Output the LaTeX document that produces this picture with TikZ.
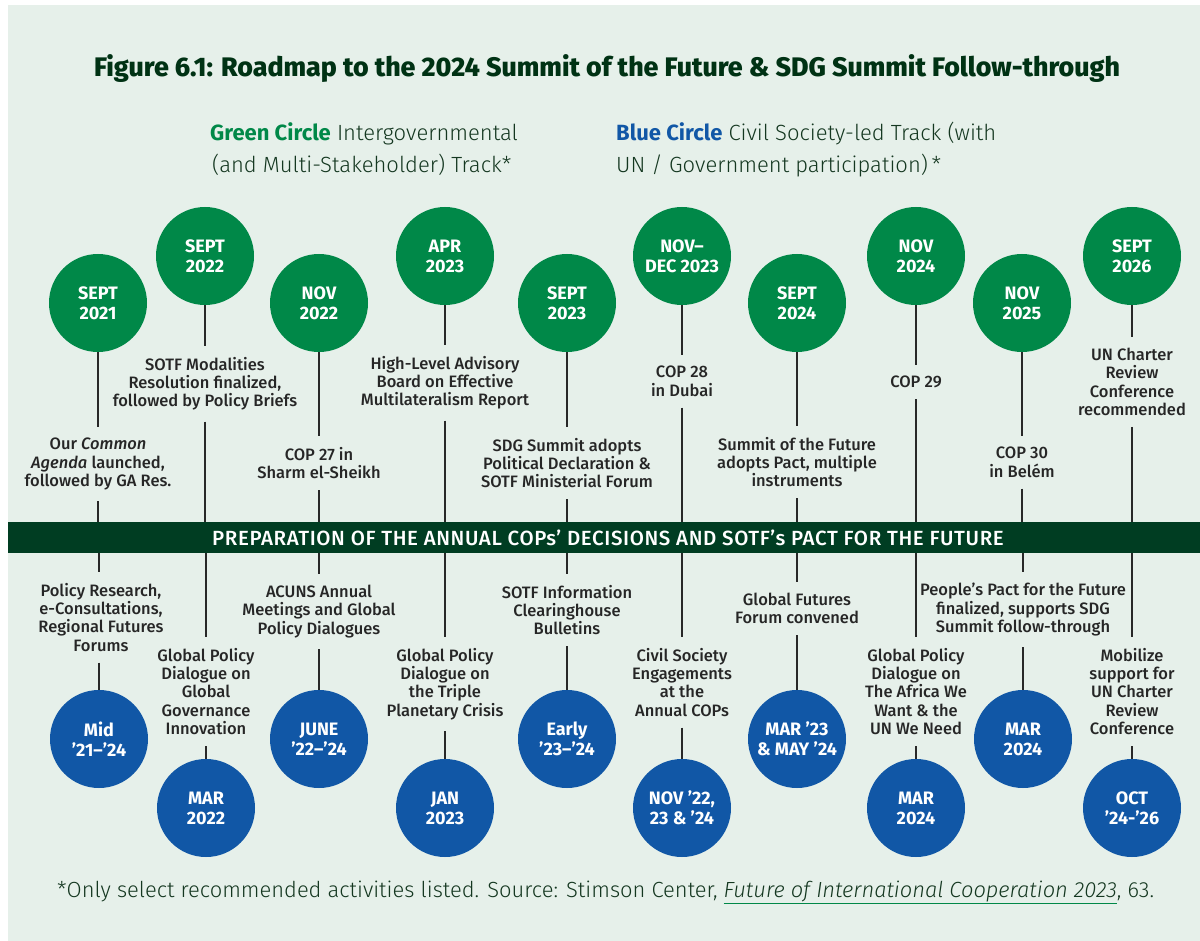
\documentclass[tikz,border=0pt]{standalone}
\usepackage{fontspec}
\setmainfont{Fira Sans}
\newfontfamily\medfont{Fira Sans Medium}
\newfontfamily\bandfont{Fira Sans Medium}[LetterSpace=3]
\newfontfamily\lightfont{Fira Sans Light}
\newfontfamily\heavyfont{Fira Sans ExtraBold}
\definecolor{panelbg}{RGB}{230,240,234}
\definecolor{gcirc}{RGB}{0,136,72}
\definecolor{bcirc}{RGB}{17,87,166}
\definecolor{bandc}{RGB}{0,61,34}
\definecolor{titlec}{RGB}{0,50,20}
\definecolor{labelc}{RGB}{38,38,38}
\definecolor{notec}{RGB}{20,55,32}
\definecolor{stemc}{RGB}{40,40,40}
\begin{document}
\begin{tikzpicture}[x=1pt,y=-1pt,
  dot/.style={circle, minimum size=98pt, inner sep=0pt, text=white, align=center,
    font=\bfseries\fontsize{18}{20}\selectfont},
  gdot/.style={dot, fill=gcirc},
  bdot/.style={dot, fill=bcirc},
  lab/.style={align=center, text=labelc, inner xsep=0pt, inner ysep=11pt, anchor=north,
    font=\medfont\fontsize{16.5}{18.3}\selectfont},
  stem/.style={draw=stemc, line width=2.2pt},
  legend/.style={anchor=base west, inner sep=0pt, text=notec,
    font=\lightfont\fontsize{22}{26}\selectfont},
]
\useasboundingbox (0,0) rectangle (1200,941);
\fill[white] (0,0) rectangle (1200,941);
\fill[panelbg] (8,5) rectangle (1200,941);

% heading and legend
\node[anchor=base, inner sep=0pt, text=titlec, font=\heavyfont\fontsize{26.8}{30}\selectfont]
  (title) at (607,77) {Figure 6.1: Roadmap to the 2024 Summit of the Future \& SDG Summit Follow-through};
\node[legend] (leggA) at (210,141) {{\rmfamily\bfseries\color{gcirc}Green Circle} Intergovernmental};
\node[legend] (leggB) at (212,173) {(and Multi-Stakeholder) Track*};
\node[legend] (legbA) at (616,141) {{\rmfamily\bfseries\color{bcirc}Blue Circle} Civil Society-led Track (with};
\node[legend] (legbB) at (616,173) {UN / Government participation)\,*};

% central band and its caption
\node[fill=bandc, minimum width=1192pt, minimum height=31pt, inner sep=0pt] (band) at (604,537.5) {};
\node[text=white, inner sep=0pt, font=\bandfont\fontsize{20.5}{22}\selectfont] (bandtext) at (608,537.5)
  {PREPARATION OF THE ANNUAL COPs’ DECISIONS AND SOTF’s PACT FOR THE FUTURE};

% intergovernmental track (green)
\node[gdot] (g1) at (98,303) {SEPT\\2021};
\node[gdot] (g2) at (205,256) {SEPT\\2022};
\node[gdot] (g3) at (319,303) {NOV\\2022};
\node[gdot] (g4) at (445,256) {APR\\2023};
\node[gdot] (g5) at (567,303) {SEPT\\2023};
\node[gdot] (g6) at (682,256) {NOV–\\DEC 2023};
\node[gdot] (g7) at (797,303) {SEPT\\2024};
\node[gdot] (g8) at (916,256) {NOV\\2024};
\node[gdot] (g9) at (1022,303) {NOV\\2025};
\node[gdot] (g10) at (1132,256) {SEPT\\2026};

\node[lab] (tg1) at (98,427) {Our \textit{Common}\\\textit{Agenda} launched,\\followed by GA Res.};
\node[lab] (tg2) at (205,346) {SOTF Modalities\\Resolution finalized,\\followed by Policy Briefs};
\node[lab] (tg3) at (319,436) {COP 27 in\\Sharm el-Sheikh};
\node[lab] (tg4) at (445,345) {High-Level Advisory\\Board on Effective\\Multilateralism Report};
\node[lab] (tg5) at (567,427) {SDG Summit adopts\\Political Declaration \&\\SOTF Ministerial Forum};
\node[lab] (tg6) at (682,355) {COP 28\\in Dubai};
\node[lab] (tg7) at (797,426) {Summit of the Future\\adopts Pact, multiple\\instruments};
\node[lab] (tg8) at (916,365) {COP 29};
\node[lab] (tg9) at (1022,436) {COP 30\\in Belém};
\node[lab] (tg10) at (1132,337) {UN Charter\\Review\\Conference\\recommended};

% civil-society track (blue)
\node[bdot] (b1) at (99,739) {Mid\\’21–’24};
\node[bdot] (b2) at (206,808) {MAR\\2022};
\node[bdot] (b3) at (319,739) {JUNE\\’22–’24};
\node[bdot] (b4) at (445,808) {JAN\\2023};
\node[bdot] (b5) at (567,739) {Early\\’23–’24};
\node[bdot] (b6) at (682,808) {NOV ’22,\\23 \& ’24};
\node[bdot] (b7) at (797,739) {MAR ’23\\\& MAY ’24};
\node[bdot] (b8) at (916,808) {MAR\\2024};
\node[bdot] (b9) at (1023,739) {MAR\\2024};
\node[bdot] (b10) at (1132,808) {OCT\\’24-’26};

\node[lab] (tb1) at (101,572) {Policy Research,\\e-Consultations,\\Regional Futures\\Forums};
\node[lab] (tb2) at (206,637) {Global Policy\\Dialogue on\\Global\\Governance\\Innovation};
\node[lab] (tb3) at (319,574) {ACUNS Annual\\Meetings and Global\\Policy Dialogues};
\node[lab] (tb4) at (445,637) {Global Policy\\Dialogue on\\the Triple\\Planetary Crisis};
\node[lab] (tb5) at (567,574) {SOTF Information\\Clearinghouse\\Bulletins};
\node[lab] (tb6) at (682,637) {Civil Society\\Engagements\\at the\\Annual COPs};
\node[lab] (tb7) at (797,582) {Global Futures\\Forum convened};
\node[lab] (tb8) at (916,637) {Global Policy\\Dialogue on\\The Africa We\\Want \& the\\UN We Need};
\node[lab] (tb9) at (1023,572) {People’s Pact for the Future\\finalized, supports SDG\\Summit follow-through};
\node[lab] (tb10) at (1132,637) {Mobilize\\support for\\UN Charter\\Review\\Conference};

% stems: circle -> label -> band
\foreach \i in {1,...,10}{
  \draw[stem] (g\i.south) -- (g\i.south |- tg\i.north);
  \draw[stem] (g\i.south |- tg\i.south) -- (g\i.south |- band.north);
  \draw[stem] (b\i.north |- band.south) -- (b\i.north |- tb\i.north);
  \draw[stem] (b\i.north |- tb\i.south) -- (b\i.north);
}

% source note
\node[anchor=base west, inner sep=0pt, text=notec, font=\lightfont\fontsize{21.9}{26}\selectfont]
  (note) at (57,897) {*Only select recommended activities listed. Source: Stimson Center,
  \textcolor{gcirc}{\underline{\textcolor{notec}{\itshape Future of International Cooperation 2023}}}, 63.};
\end{tikzpicture}
\end{document}
